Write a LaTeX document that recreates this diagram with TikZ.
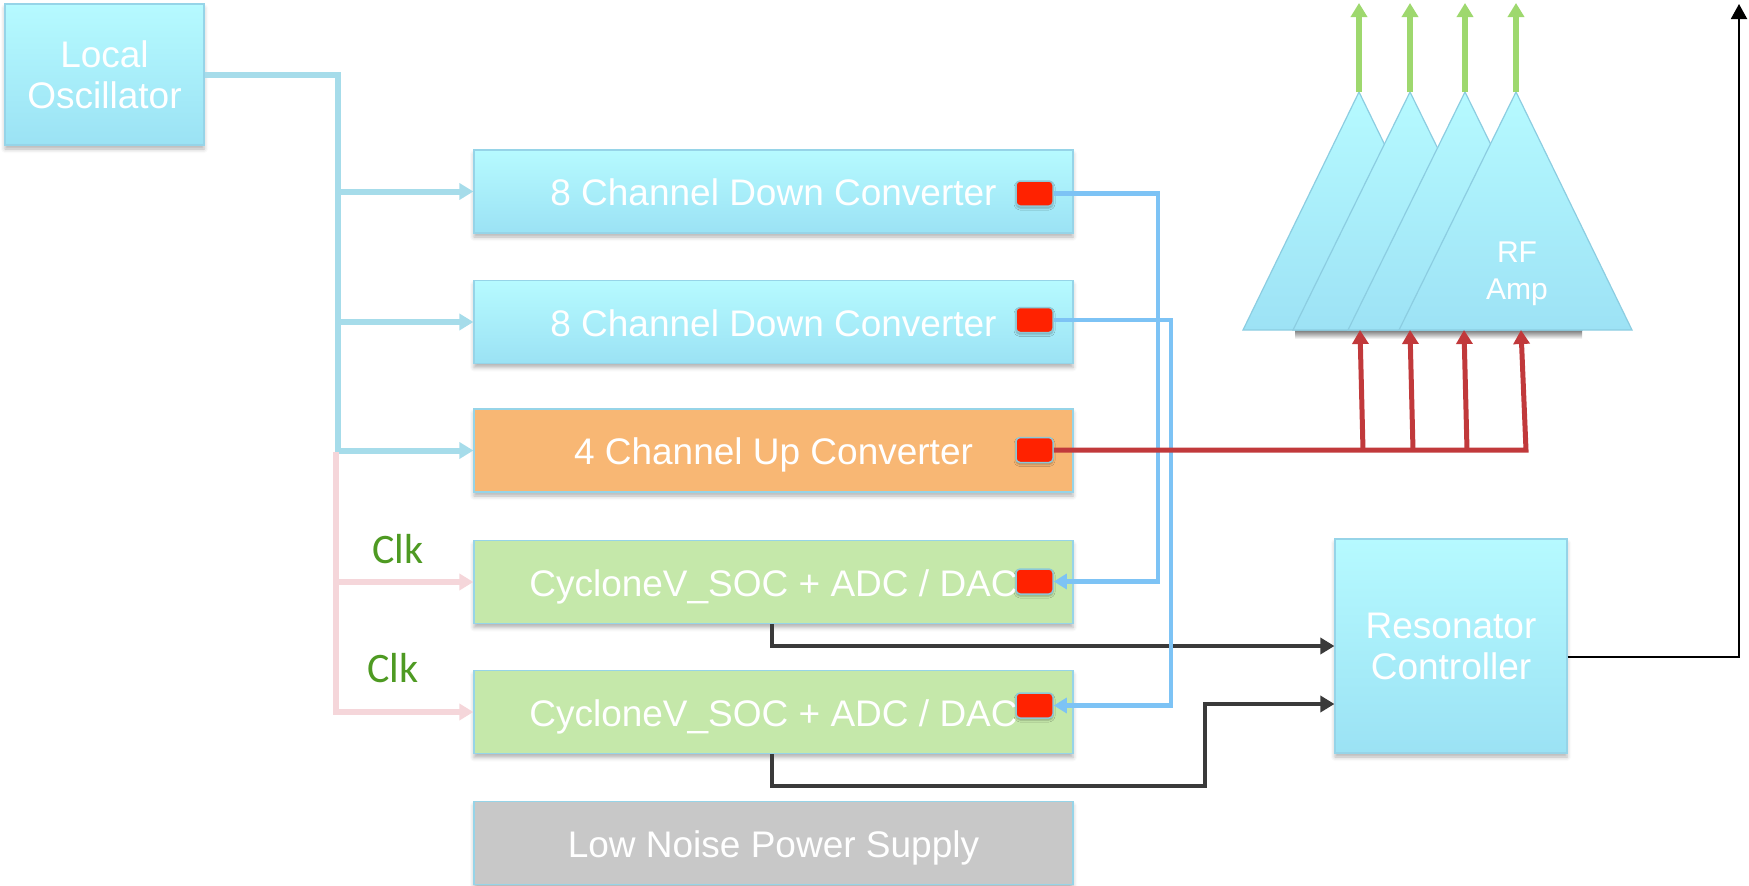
\documentclass[tikz,border=0pt]{standalone}
\usepackage{fontspec}
\setmainfont{Liberation Sans}
\newfontfamily\clkfont{Carlito}
\usetikzlibrary{arrows.meta,shadows.blur}

\definecolor{boxtop}{RGB}{182,250,255}
\definecolor{boxbot}{RGB}{155,226,244}
\definecolor{boxedge}{RGB}{150,212,232}
\definecolor{orangebox}{RGB}{248,183,116}
\definecolor{greenbox}{RGB}{197,232,170}
\definecolor{graybox}{RGB}{200,200,200}
\definecolor{chipred}{RGB}{255,34,0}
\definecolor{chipedge}{RGB}{140,200,215}
\definecolor{loblue}{RGB}{166,220,234}
\definecolor{chipblue}{RGB}{125,195,245}
\definecolor{clkpink}{RGB}{245,214,218}
\definecolor{rfred}{RGB}{193,57,59}
\definecolor{outgreen}{RGB}{158,216,110}
\definecolor{ctrlgray}{RGB}{58,58,58}
\definecolor{clkgreen}{RGB}{78,154,34}
\definecolor{tritop}{RGB}{182,250,255}
\definecolor{tribot}{RGB}{157,226,245}
\definecolor{triedge}{RGB}{140,205,225}

\begin{document}
\begin{tikzpicture}[x=1pt,y=-1pt,
  box/.style={draw=boxedge, line width=1.2pt, inner sep=0pt, text=white,
    font=\fontsize{37}{41}\selectfont, align=center,
    blur shadow={shadow xshift=0pt, shadow yshift=-4pt, shadow blur radius=4pt, shadow opacity=30}},
  cyanbox/.style={box, top color=boxtop, bottom color=boxbot},
  wide/.style={minimum width=599pt, minimum height=83pt, text height=34pt, text depth=6pt},
  chip/.style={draw=chipedge, line width=1.5pt, fill=chipred, rounded corners=4pt,
    minimum width=37pt, minimum height=25pt, inner sep=0pt,
    blur shadow={shadow xshift=0pt, shadow yshift=-2pt, shadow blur radius=2pt, shadow opacity=30}},
  bigtip/.style={-{Triangle[width=16pt,length=14pt]}},
  loline/.style={draw=loblue, line width=6pt},
  pinkline/.style={draw=clkpink, line width=6pt},
  chipline/.style={draw=chipblue, line width=4.5pt},
  redline/.style={draw=rfred, line width=5pt},
  grnline/.style={draw=outgreen, line width=6pt},
  blkline/.style={draw=ctrlgray, line width=4pt},
  outline/.style={draw=black, line width=2pt, -{Triangle[width=16pt,length=15pt]}},
  tri/.style={top color=tritop, bottom color=tribot, draw=triedge, line width=1.2pt},
  clk/.style={text=clkgreen, font=\clkfont\fontsize{42}{46}\selectfont, inner sep=0pt}
]
\useasboundingbox (0,0) rectangle (1749,886);

% control connections from the SoC boards to the resonator controller
\coordinate (s1) at (772,646);
\coordinate (s2) at (1205,786);
\coordinate (s3) at (1205,704);

% blocks
\node[cyanbox, minimum width=199pt, minimum height=141pt] (lo) at (104.5,74.5) {Local\\Oscillator};
\node[cyanbox, wide] (dc1) at (773.5,191.5) {8 Channel Down Converter};
\node[cyanbox, wide] (dc2) at (773.5,322) {8 Channel Down Converter};
\node[box, wide, fill=orangebox] (uc) at (773.5,450.5) {4 Channel Up Converter};
\node[box, wide, fill=greenbox] (cy1) at (773.5,582) {CycloneV\_SOC + ADC / DAC};
\node[box, wide, fill=greenbox] (cy2) at (773.5,712) {CycloneV\_SOC + ADC / DAC};
\node[box, wide, fill=graybox] (ps) at (773.5,843) {Low Noise Power Supply};
\node[cyanbox, minimum width=232pt, minimum height=214pt] (rc) at (1451,646) {Resonator\\Controller};

\draw[blkline, bigtip] (cy1.south -| s1) |- (rc.west |- s1);
\draw[blkline, bigtip] (cy2.south -| s1) |- (s2) |- (rc.west |- s3);

% connectors on the boards
\node[chip] (k1) at (1034.5,193.5) {};
\node[chip] (k2) at (1034.5,320) {};
\node[chip] (k3) at (1034.5,450) {};
\node[chip] (k4) at (1034.5,581.5) {};
\node[chip] (k5) at (1034.5,705.5) {};

% local oscillator distribution
\coordinate (lt) at (338,74.5);
\coordinate (lb) at (338,452);
\draw[loline] (lo.east) -- (lt) -- (lb);
\draw[loline, bigtip] (dc1.west -| lt) -- (dc1.west);
\draw[loline, bigtip] (dc2.west -| lt) -- (dc2.west);
\draw[loline, bigtip] (uc.west -| lt) -- (uc.west);

% clock distribution
\coordinate (pt) at (336,452);
\draw[pinkline, bigtip] (cy1.west -| pt) -- (cy1.west);
\draw[pinkline, bigtip] (pt) |- (cy2.west);
\node[clk, anchor=base] (clk1) at (398,563) {Clk};
\node[clk, anchor=base] (clk2) at (393,682) {Clk};

% IF paths from the down converters to the ADCs
\coordinate (v1) at (1158,400);
\coordinate (v2) at (1171,500);
\draw[chipline, -{Triangle[width=15pt,length=13pt]}] (k1.east) -| (v1) |- (k4.east);
\draw[chipline, -{Triangle[width=15pt,length=13pt]}] (k2.east) -| (v2) |- (k5.east);

% RF amplifiers
\shade[top color=black!90, bottom color=white, opacity=0.8] (1295,327) rectangle (1582,339);
\coordinate (a1) at (1359,92);
\coordinate (a2) at (1410,92);
\coordinate (a3) at (1465,92);
\coordinate (a4) at (1516,92);
\path[tri] (a1) -- (1243,330) -- (1475,330) -- cycle;
\path[tri] (a2) -- (1293,330) -- (1527,330) -- cycle;
\path[tri] (a3) -- (1348,330) -- (1582,330) -- cycle;
\path[tri] (a4) -- (1399,330) -- (1632,330) -- cycle;
\node[text=white, font=\fontsize{30}{37}\selectfont, align=center, inner sep=0pt] (rf) at (1517,274) {RF\\Amp};

\coordinate (g1) at (1359,3);
\coordinate (g2) at (1410,3);
\coordinate (g3) at (1465,3);
\coordinate (g4) at (1516,3);
\draw[grnline, bigtip] (a1) -- (g1);
\draw[grnline, bigtip] (a2) -- (g2);
\draw[grnline, bigtip] (a3) -- (g3);
\draw[grnline, bigtip] (a4) -- (g4);

% up-converter outputs feeding the amplifiers
\coordinate (re) at (1526,450);
\coordinate (rb1) at (1363,450);
\coordinate (rb2) at (1413,450);
\coordinate (rb3) at (1467,450);
\coordinate (tb1) at (1360,330);
\coordinate (tb2) at (1410,330);
\coordinate (tb3) at (1464,330);
\coordinate (tb4) at (1521,330);
\draw[redline, bigtip] (k3.east) -- (re) -- (tb4);
\draw[redline, bigtip] (rb1) -- (tb1);
\draw[redline, bigtip] (rb2) -- (tb2);
\draw[redline, bigtip] (rb3) -- (tb3);

% controller output
\coordinate (o1) at (1739,657);
\coordinate (o2) at (1739,4);
\draw[outline] (rc.east |- o1) -- (o1) -- (o2);
\end{tikzpicture}
\end{document}
